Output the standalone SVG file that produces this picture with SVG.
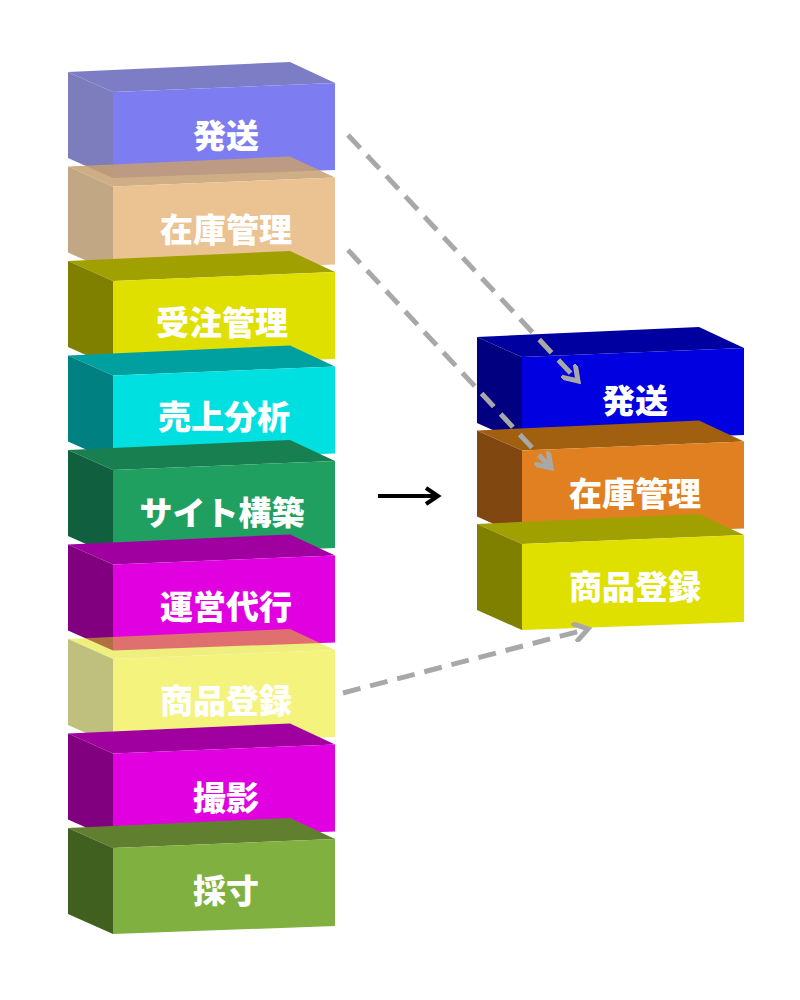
<svg xmlns="http://www.w3.org/2000/svg" width="800" height="1000" viewBox="0 0 800 1000">
<style>
text{font-family:"Noto Sans CJK JP",sans-serif;font-weight:900;font-size:33px;fill:#fff;text-anchor:middle}
.d{fill:none;stroke:#a8a8a8;stroke-width:5;stroke-dasharray:18 10}
</style>
<defs>
<polygon id="t" points="68,72 290,62 335,83 113,92"/>
<polygon id="f" points="113,92 335,83 335,170 113,178"/>
<polygon id="s" points="68,72 113,92 113,178 68,158"/>
<marker id="ag" markerWidth="4" markerHeight="4" refX="3" refY="2" orient="auto" markerUnits="strokeWidth"><path d="M0,0 L3,2 L0,4" fill="none" stroke="#a8a8a8" stroke-width="1"/></marker>
<marker id="ab" markerWidth="5" markerHeight="5" refX="3.5" refY="2.5" orient="auto" markerUnits="strokeWidth"><path d="M0.5,0.5 L3.5,2.5 L0.5,4.5" fill="none" stroke="#000" stroke-width="1"/></marker>
</defs>
<g id="n1" opacity="0.9"><use href="#t" fill="#7070c0"/><use href="#f" fill="#7070f0"/><use href="#s" fill="#7070b8"/><text x="226" y="148">発送</text></g>
<g id="n2" transform="translate(0,94.5)" opacity="0.85"><use href="#t" fill="#c8a070"/><use href="#f" fill="#e8b880"/><use href="#s" fill="#b89870"/><text x="226" y="147">在庫管理</text></g>
<g id="n3" transform="translate(0,189)"><use href="#t" fill="#a0a000"/><use href="#f" fill="#e0e000"/><use href="#s" fill="#808000"/><text x="222" y="146">受注管理</text></g>
<g id="n4" transform="translate(0,283.5)"><use href="#t" fill="#00a0a0"/><use href="#f" fill="#00e0e0"/><use href="#s" fill="#008080"/><text x="224" y="145">売上分析</text></g>
<g id="n5" transform="translate(0,378)"><use href="#t" fill="#188050"/><use href="#f" fill="#20a060"/><use href="#s" fill="#106040"/><text x="222" y="147">サイト構築</text></g>
<g id="n6" transform="translate(0,472.5)"><use href="#t" fill="#a000a0"/><use href="#f" fill="#e000e0"/><use href="#s" fill="#800080"/><text x="226" y="146">運営代行</text></g>
<g id="n7" transform="translate(0,567)" opacity="0.5"><use href="#t" fill="#e0e000"/><use href="#f" fill="#e8e800"/><use href="#s" fill="#808000"/><text x="226" y="146">商品登録</text></g>
<g id="n8" transform="translate(0,661.5)"><use href="#t" fill="#a000a0"/><use href="#f" fill="#e000e0"/><use href="#s" fill="#800080"/><text x="226" y="148">撮影</text></g>
<g id="n9" transform="translate(0,756)"><use href="#t" fill="#608030"/><use href="#f" fill="#80b040"/><use href="#s" fill="#406020"/><text x="226" y="147">採寸</text></g>
<g id="r1" transform="translate(409,265)"><use href="#t" fill="#0000a0"/><use href="#f" fill="#0000e0"/><use href="#s" fill="#000080"/><text x="226" y="148">発送</text></g>
<g id="r2" transform="translate(409,358.5)"><use href="#t" fill="#a06010"/><use href="#f" fill="#e08020"/><use href="#s" fill="#804810"/><text x="226" y="147">在庫管理</text></g>
<g id="r3" transform="translate(409,452)"><use href="#t" fill="#a0a000"/><use href="#f" fill="#e0e000"/><use href="#s" fill="#808000"/><text x="226" y="147">商品登録</text></g>
<g id="connectors">
<line class="d" x1="348" y1="135" x2="578" y2="381" marker-end="url(#ag)"/>
<line class="d" x1="348" y1="250" x2="551" y2="468" marker-end="url(#ag)"/>
<line class="d" x1="343" y1="693" x2="588" y2="629" marker-end="url(#ag)"/>
<line x1="378" y1="496" x2="438" y2="496" stroke="#000" stroke-width="4" marker-end="url(#ab)"/>
</g>
</svg>
